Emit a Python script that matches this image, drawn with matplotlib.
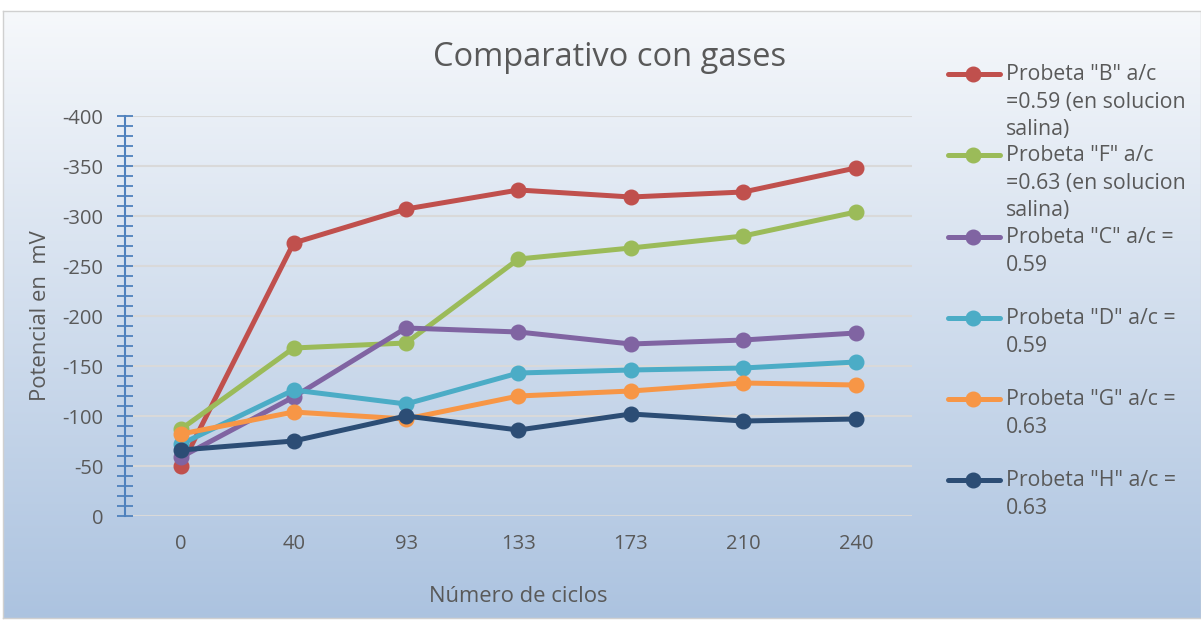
import numpy as np
import matplotlib.pyplot as plt
from matplotlib.lines import Line2D
from matplotlib.ticker import MultipleLocator

plt.rcParams['font.family'] = ['Open Sans', 'DejaVu Sans']
plt.rcParams['axes.unicode_minus'] = False

# data
ciclos = ['0', '40', '93', '133', '173', '210', '240']
probeta_b = [-50, -273, -307, -326, -319, -324, -348]
probeta_f = [-87, -168, -173, -257, -268, -280, -304]
probeta_c = [-59, -119, -188, -184, -172, -176, -183]
probeta_d = [-72, -126, -112, -143, -146, -148, -154]
probeta_g = [-82, -104, -97, -120, -125, -133, -131]
probeta_h = [-66, -75, -100, -86, -102, -95, -97]

series = [
    (probeta_b, '#C0504D', 'Probeta "B" a/c\n=0.59 (en solucion\nsalina)'),
    (probeta_f, '#9BBB59', 'Probeta "F" a/c\n=0.63 (en solucion\nsalina)'),
    (probeta_c, '#8064A2', 'Probeta "C" a/c =\n0.59'),
    (probeta_d, '#4BACC6', 'Probeta "D" a/c =\n0.59'),
    (probeta_g, '#F79646', 'Probeta "G" a/c =\n0.63'),
    (probeta_h, '#2C4D75', 'Probeta "H" a/c =\n0.63'),
]

text_col = '#595959'
W, H = 1201, 620
fig = plt.figure(figsize=(W / 100, H / 100), dpi=100)

# gradient background with a thin border
bg = fig.add_axes([3 / W, 2 / H, 1 - 3 / W, 1 - 13 / H], zorder=-5)
top = np.array([0.965, 0.973, 0.984])
bot = np.array([0.675, 0.765, 0.878])
t = np.linspace(0, 1, 256)[:, None]
grad = (top * (1 - t) + bot * t)[:, None, :]
bg.imshow(grad, aspect='auto', extent=[0, 1, 0, 1])
bg.set_xticks([])
bg.set_yticks([])
for s in bg.spines.values():
    s.set_color('#D0D0D0')
    s.set_linewidth(1)

ax = fig.add_axes([125 / W, 1 - 516 / H, (912 - 125) / W, 400 / H])
ax.patch.set_alpha(0)
x = np.arange(len(ciclos)) + 0.5
for vals, col, lab in series:
    ax.plot(x, vals, color=col, linewidth=3.6, marker='o', markersize=10.5,
            solid_capstyle='round', zorder=3)

ax.set_xlim(0, len(ciclos))
ax.set_ylim(0, -400)
ax.set_xticks(x)
ax.set_xticklabels(ciclos)
ax.yaxis.set_major_locator(MultipleLocator(50))
ax.yaxis.set_minor_locator(MultipleLocator(10))
ax.tick_params(axis='x', length=0, pad=13, labelsize=14.5, labelcolor=text_col)
ax.tick_params(axis='y', which='both', direction='inout', length=11, width=1.3,
               color='#4F81BD', labelsize=14.5, labelcolor=text_col, pad=10)
ax.grid(axis='y', color='#D9D9D9', linewidth=1.5, zorder=0)
ax.set_axisbelow(True)
for side in ['top', 'right', 'bottom']:
    ax.spines[side].set_visible(False)
ax.spines['left'].set_color('#4F81BD')
ax.spines['left'].set_linewidth(1.5)

ax.set_ylabel('Potencial en  mV', fontsize=15.8, color=text_col, labelpad=8)
ax.set_xlabel('Número de ciclos', fontsize=15.8, color=text_col, labelpad=23)
fig.text(610 / W, 1 - 57 / H, 'Comparativo con gases', fontsize=23.5,
         color=text_col, ha='center', va='center')

# legend drawn entry by entry so the handle sits on the first text line
first_line = [74, 155, 237, 318, 399, 480]
for (vals, col, lab), yp in zip(series, first_line):
    yf = 1 - yp / H
    fig.add_artist(Line2D([948 / W, 1000 / W], [yf, yf], color=col, linewidth=3.6,
                          solid_capstyle='round', transform=fig.transFigure))
    fig.add_artist(Line2D([973 / W], [yf], color=col, marker='o', markersize=10.5,
                          transform=fig.transFigure))
    fig.text(1006 / W, yf + 10 / H, lab, fontsize=15.3, color=text_col,
             ha='left', va='top', linespacing=1.42)

fig.savefig('out.png', dpi=100)
